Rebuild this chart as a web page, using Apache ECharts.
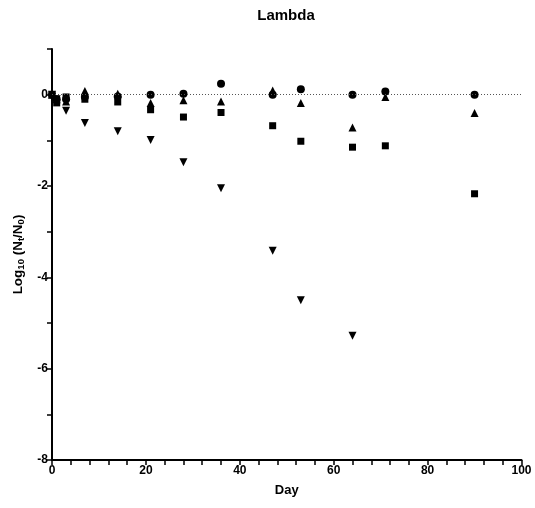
<!DOCTYPE html>
<html><head><meta charset="utf-8">
<script src="https://cdn.jsdelivr.net/npm/echarts@6/dist/echarts.min.js"></script>
<style>html,body{margin:0;padding:0;background:#fff}#c{width:535px;height:508px}</style>
</head><body><div id="c"></div>
<script>
const days = [0, 1, 3, 7, 14, 21, 28, 36, 47, 53, 64, 71, 90];
const circleVals = [0, -0.1, -0.1, -0.05, -0.04, 0, 0.02, 0.24, 0, 0.12, 0, 0.07, 0];
const squareVals = [0, -0.18, -0.05, -0.1, -0.16, -0.33, -0.49, -0.39, -0.68, -1.02, -1.15, -1.12, -2.17];
const triUpVals = [0, -0.1, -0.15, 0.08, 0.02, -0.18, -0.12, -0.15, 0.09, -0.18, -0.72, -0.05, -0.4];
const triDownDays = [0, 1, 3, 7, 14, 21, 28, 36, 47, 53, 64];
const triDownVals = [0, -0.1, -0.35, -0.62, -0.8, -0.99, -1.48, -2.05, -3.42, -4.5, -5.28];
const yTickLabels = [0, -2, -4, -6, -8];
const xTickLabels = [0, 20, 40, 60, 80, 100];

const pair = (xs, ys) => xs.map((x, i) => [x, ys[i]]);
const font = 'Liberation Sans, Arial, sans-serif';
const chart = echarts.init(document.getElementById('c'), null, {renderer: 'canvas'});
const mk = (name, symbol, size, data, extra) => Object.assign({
  name, type: 'scatter', symbol, symbolSize: size, data,
  itemStyle: {color: '#000', opacity: 1}, emphasis: {disabled: true}, z: 3
}, extra || {});

chart.setOption({
  animation: false,
  title: {text: 'Lambda', left: 281, top: 3, textAlign: 'center',
    textStyle: {fontFamily: font, fontWeight: 'bold', fontSize: 15, color: '#000'}},
  grid: {left: 52, right: 13.5, top: 49, bottom: 48},
  xAxis: {
    type: 'value', min: 0, max: 100, interval: 4,
    name: 'Day', nameLocation: 'middle', nameGap: 24,
    nameTextStyle: {fontFamily: font, fontWeight: 'bold', fontSize: 13, color: '#000'},
    axisLine: {onZero: false, lineStyle: {color: '#000', width: 2}},
    axisTick: {length: 5, lineStyle: {color: '#000', width: 1.5}},
    axisLabel: {fontFamily: font, fontWeight: 'bold', fontSize: 12, color: '#000', margin: 5,
      formatter: v => xTickLabels.includes(v) ? String(v) : ''},
    splitLine: {show: false}
  },
  yAxis: {
    type: 'value', min: -8, max: 1, interval: 1,
    name: '{a|Log}{s|10}{a| (N}{s|t}{a|/N}{s|0}{a|)}', nameLocation: 'middle', nameGap: 26,
    nameTextStyle: {rich: {
      a: {fontFamily: font, fontWeight: 'bold', fontSize: 13.5, color: '#000', lineHeight: 16, verticalAlign: 'middle'},
      s: {fontFamily: font, fontWeight: 'bold', fontSize: 9.5, color: '#000', padding: [6, 0, 0, 0], verticalAlign: 'middle'}
    }},
    axisLine: {onZero: false, lineStyle: {color: '#000', width: 2}},
    axisTick: {length: 5, lineStyle: {color: '#000', width: 1.5}},
    axisLabel: {fontFamily: font, fontWeight: 'bold', fontSize: 12, color: '#000', margin: 4,
      formatter: v => yTickLabels.includes(v) ? String(v) : ''},
    splitLine: {show: false}
  },
  series: [
    mk('line0', 'circle', 0, [], {markLine: {silent: true, symbol: 'none', label: {show: false},
      lineStyle: {color: '#555', type: [1, 2], width: 1}, data: [{yAxis: 0}]}}),
    mk('circle', 'circle', 8, pair(days, circleVals)),
    mk('square', 'rect', 7, pair(days, squareVals)),
    mk('triUp', 'triangle', 8, pair(days, triUpVals)),
    mk('triDown', 'triangle', 8, pair(triDownDays, triDownVals), {symbolRotate: 180})
  ]
});
</script></body></html>
